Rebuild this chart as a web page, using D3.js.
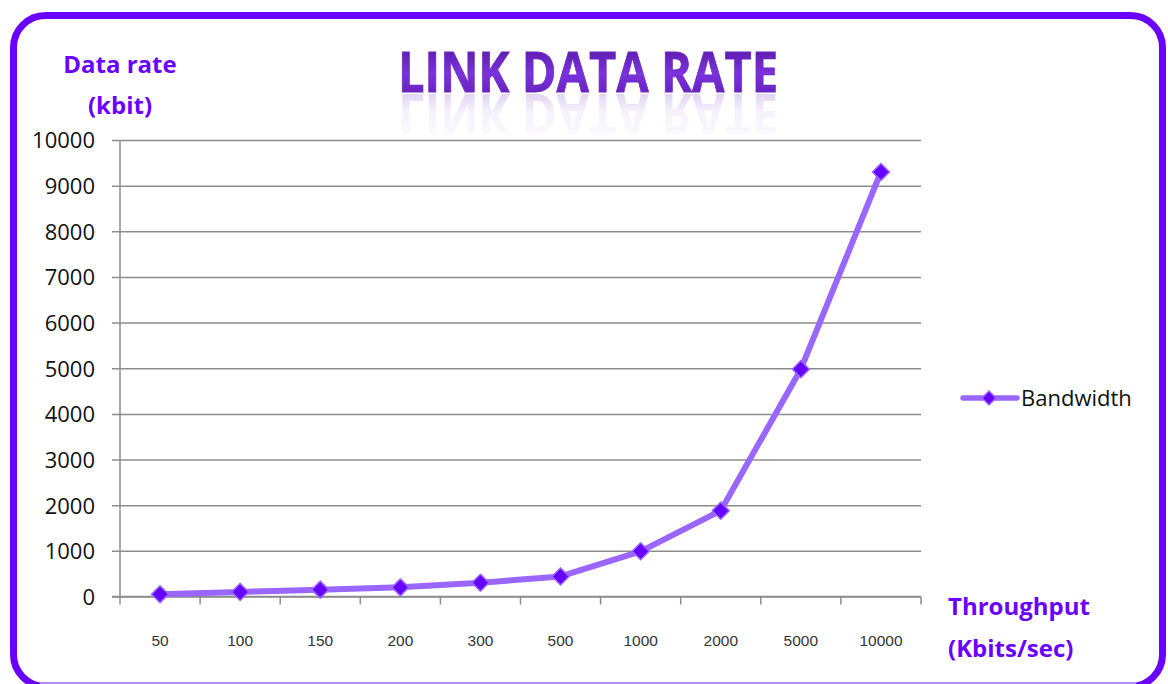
<!DOCTYPE html>
<html>
<head>
<meta charset="utf-8">
<script src="https://cdn.jsdelivr.net/npm/d3@7"></script>
<style>
  html, body { margin: 0; padding: 0; background: #fff; }
  svg { display: block; }
</style>
</head>
<body>
<svg id="chart" width="1168" height="684"></svg>
<script>
// Throughput categories (Kbits/sec) and measured bandwidth (kbit)
const categories = ["50", "100", "150", "200", "300", "500", "1000", "2000", "5000", "10000"];
const bandwidth = [50, 100, 150, 200, 300, 440, 990, 1880, 4980, 9300];
const yTicks = [0, 1000, 2000, 3000, 4000, 5000, 6000, 7000, 8000, 9000, 10000];
const seriesName = "Bandwidth";

const svg = d3.select("#chart");
const purple = "#6a00ff";
const lineColor = "#9966ff";

const defs = svg.append("defs");
const tg = defs.append("linearGradient").attr("id", "titleGrad")
  .attr("x1", 0).attr("y1", 0).attr("x2", 0).attr("y2", 1);
tg.append("stop").attr("offset", "0%").attr("stop-color", "#4a0a8c");
tg.append("stop").attr("offset", "55%").attr("stop-color", "#7a33dd");
tg.append("stop").attr("offset", "100%").attr("stop-color", "#5a14a8");

const rg = defs.append("linearGradient").attr("id", "reflGrad")
  .attr("x1", 0).attr("y1", 0).attr("x2", 0).attr("y2", 1);
rg.append("stop").attr("offset", "0%").attr("stop-color", "#7a40c8").attr("stop-opacity", 0);
rg.append("stop").attr("offset", "55%").attr("stop-color", "#8a55d0").attr("stop-opacity", 0.08);
rg.append("stop").attr("offset", "100%").attr("stop-color", "#8a55d0").attr("stop-opacity", 0.4);

// Title glyphs defined once, drawn twice (face + mirrored reflection)
const title = "LINK DATA RATE";
defs.append("text").attr("id", "titleText")
  .attr("x", 588).attr("y", 92).attr("text-anchor", "middle")
  .attr("font-family", "'Open Sans', sans-serif").attr("font-weight", 700).attr("font-size", 56)
  .attr("textLength", 380).attr("lengthAdjust", "spacingAndGlyphs")
  .text(title);

// Frame (bottom edge runs just past the canvas)
svg.append("rect")
  .attr("x", 13.5).attr("y", 15.5).attr("width", 1149).attr("height", 671)
  .attr("rx", 32).attr("ry", 32)
  .attr("fill", "#fff").attr("stroke", purple).attr("stroke-width", 7);
svg.append("line").attr("x1", 40).attr("x2", 1136).attr("y1", 683).attr("y2", 683)
  .attr("stroke", "#b28cff").attr("stroke-width", 2);

// Plot geometry
const x0 = 120, x1 = 921, yTop = 140, yBot = 596.5;
const x = d3.scaleBand().domain(categories).range([x0, x1]);
const y = d3.scaleLinear().domain([0, 10000]).range([yBot, yTop]);

// Horizontal gridlines with outside tick stubs
const yAxis = d3.axisLeft(y).tickValues(yTicks).tickSize(-(x1 - x0)).tickSizeOuter(0).tickFormat(d3.format("d"));
const gy = svg.append("g").attr("transform", `translate(${x0},0)`).call(yAxis);
gy.select(".domain").remove();
gy.selectAll(".tick line").attr("stroke", "#8c8c8c").attr("stroke-width", 1.5).attr("x1", -8);
gy.selectAll(".tick text").attr("x", -25).attr("dy", "0.36em")
  .attr("font-family", "'Open Sans', sans-serif").attr("font-size", 22).attr("fill", "#111");

// Vertical axis line
svg.append("line").attr("x1", x0).attr("x2", x0).attr("y1", yTop).attr("y2", yBot)
  .attr("stroke", "#8c8c8c").attr("stroke-width", 1.5);

// X axis with boundary ticks
const gx = svg.append("g").attr("transform", `translate(0,${yBot})`)
  .call(d3.axisBottom(x).tickSize(0).tickPadding(0));
gx.select(".domain").remove();
svg.append("line").attr("x1", 112).attr("x2", x1).attr("y1", yBot).attr("y2", yBot)
  .attr("stroke", "#8c8c8c").attr("stroke-width", 1.5);
const bounds = categories.map(c => x(c)).concat([x1]);
svg.append("g").selectAll("line").data(bounds).join("line")
  .attr("x1", d => d).attr("x2", d => d).attr("y1", yBot).attr("y2", yBot + 8)
  .attr("stroke", "#8c8c8c").attr("stroke-width", 1.5);
gx.selectAll(".tick text")
  .attr("y", 49).attr("dy", 0)
  .attr("font-family", "'Liberation Sans', Arial, sans-serif").attr("font-size", 15.5).attr("fill", "#333");

// Series line
const pts = categories.map((c, i) => ({ c, v: bandwidth[i] }));
const line = d3.line().x(d => x(d.c) + x.bandwidth() / 2).y(d => y(d.v));
svg.append("path").datum(pts).attr("d", line)
  .attr("fill", "none").attr("stroke", lineColor).attr("stroke-width", 6)
  .attr("stroke-linejoin", "round").attr("stroke-linecap", "round");

// Diamond markers
const diamond = s => `M0,${-s}L${s},0L0,${s}L${-s},0Z`;
svg.append("g").selectAll("path").data(pts).join("path")
  .attr("transform", d => `translate(${x(d.c) + x.bandwidth() / 2},${y(d.v)})`)
  .attr("d", diamond(8.5))
  .attr("fill", "#6600ff").attr("stroke", "#9966ff").attr("stroke-width", 1.5);

// Legend
const lg = svg.append("g").attr("transform", "translate(963,398)");
lg.append("line").attr("x1", 0).attr("x2", 54).attr("y1", 0).attr("y2", 0)
  .attr("stroke", lineColor).attr("stroke-width", 5.5).attr("stroke-linecap", "round");
lg.append("path").attr("transform", "translate(26,0)").attr("d", diamond(7))
  .attr("fill", "#6600ff").attr("stroke", "#9966ff").attr("stroke-width", 1.5);
lg.append("text").attr("x", 58).attr("y", 8).text(seriesName)
  .attr("font-family", "'Open Sans', sans-serif").attr("font-size", 22).attr("fill", "#111");

// Axis titles
const axisTitle = (tx, ty, txt, anchor) => svg.append("text")
  .attr("x", tx).attr("y", ty).attr("text-anchor", anchor).text(txt)
  .attr("font-family", "'Open Sans', sans-serif").attr("font-weight", 700)
  .attr("font-size", 24).attr("fill", purple);
axisTitle(120, 73, "Data rate", "middle");
axisTitle(120, 114, "(kbit)", "middle");
axisTitle(948, 615, "Throughput", "start");
axisTitle(948, 657, "(Kbits/sec)", "start");

// Title: mirrored faded reflection, then the gradient face
svg.append("use").attr("href", "#titleText")
  .attr("fill", "url(#reflGrad)")
  .attr("transform", "translate(0,186) scale(1,-1)");
svg.append("use").attr("href", "#titleText")
  .attr("fill", "url(#titleGrad)").attr("stroke", "#6a2ac0").attr("stroke-width", 0.8);
</script>
</body>
</html>
